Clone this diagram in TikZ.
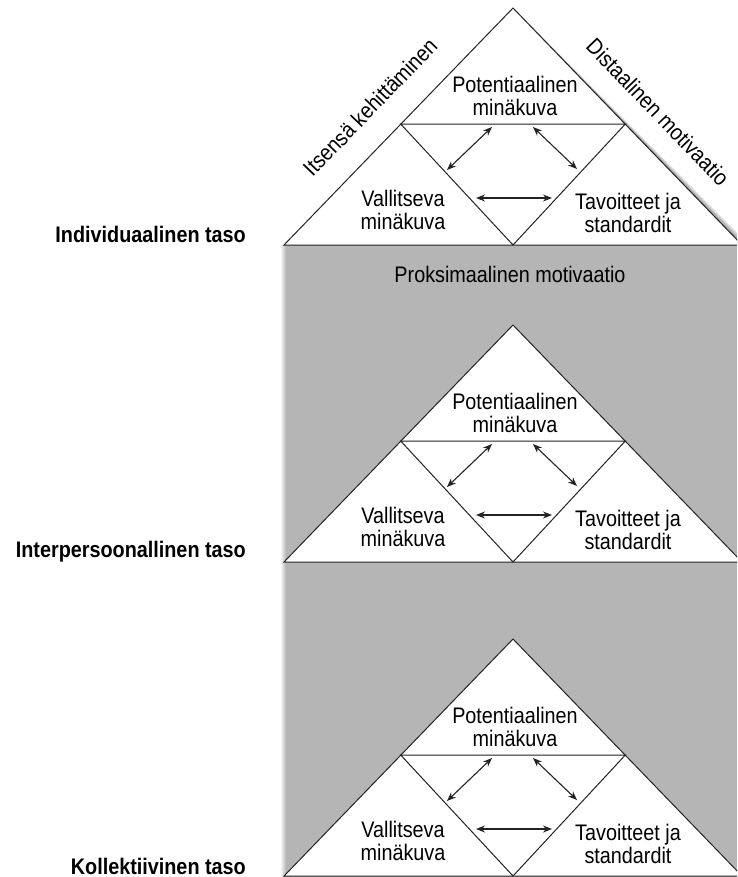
\documentclass[tikz,border=0pt]{standalone}
\usepackage{fontspec}
\setmainfont[FakeStretch=0.88]{Liberation Sans}
\usetikzlibrary{arrows.meta,calc}
\definecolor{panel}{RGB}{181,181,181}
\definecolor{edgec}{RGB}{35,35,35}
\tikzset{
  tri/.style={draw=edgec,line width=1pt,line join=miter},
  trifill/.style={fill=white},
  lbl/.style={align=center,inner sep=0pt,font=\fontsize{22.5}{23}\selectfont},
  side/.style={inner sep=0pt,font=\fontsize{22.5}{23}\selectfont},
  level/.style={inner sep=0pt,font=\bfseries\fontsize{22.5}{23}\selectfont,anchor=base east},
  dbl/.style={draw=edgec,line width=1.1pt,{Stealth[length=9pt,width=7pt]}-{Stealth[length=9pt,width=7pt]}}
}
\begin{document}
\begin{tikzpicture}[x=1pt,y=-1pt]
\useasboundingbox (0,0) rectangle (737,877);
\clip (0,0) rectangle (737,877);
% grey panel with a soft left edge
\fill[panel] (285,245) rectangle (737,877);
\shade[left color=white,right color=panel] (280,245) rectangle (286,877);
% soft shadow of top triangle
\foreach \k in {1,...,8}{
  \fill[black,opacity=0.06] (513+\k,8+\k) -- (284+\k,245) -- (742+\k,245) -- cycle;
}
\foreach \i/\o in {1/0,2/317,3/631}{
  \coordinate (A\i) at (513,8+\o);
  \coordinate (L\i) at (284,245+\o);
  \coordinate (R\i) at (742,245+\o);
  \coordinate (M\i) at (513,245+\o);
  \coordinate (ML\i) at ($(A\i)!0.49!(L\i)$);
  \coordinate (MR\i) at ($(A\i)!0.49!(R\i)$);
  \filldraw[tri,trifill] (A\i) -- (L\i) -- (R\i) -- cycle;
  \draw[tri] (ML\i) -- (MR\i) -- (M\i) -- cycle;
  \node[lbl] (pot\i) at (515,95.5+\o) {Potentiaalinen\\minäkuva};
  \node[lbl] (val\i) at (403,210.3+\o) {Vallitseva\\minäkuva};
  \node[lbl] (tav\i) at (628,212.8+\o) {Tavoitteet ja\\standardit};
  \coordinate (ua\i) at (492,127+\o);
  \coordinate (ub\i) at (447,170+\o);
  \coordinate (va\i) at (533,127+\o);
  \coordinate (vb\i) at (577,169+\o);
  \coordinate (ha\i) at (476,198+\o);
  \coordinate (hb\i) at (552,198+\o);
  \draw[dbl] (ua\i) -- (ub\i);
  \draw[dbl] (va\i) -- (vb\i);
  \draw[dbl] (ha\i) -- (hb\i);
}
\node[side,rotate=46] (self) at (370,107) {Itsensä kehittäminen};
\node[side,rotate=-46] (dist) at (658,112) {Distaalinen motivaatio};
\node[side,anchor=base] (prox) at (510,282) {Proksimaalinen motivaatio};
\node[level] (ind) at (246,243) {Individuaalinen taso};
\node[level] (int) at (246,557) {Interpersoonallinen taso};
\node[level] (kol) at (246,874) {Kollektiivinen taso};
\end{tikzpicture}
\end{document}
